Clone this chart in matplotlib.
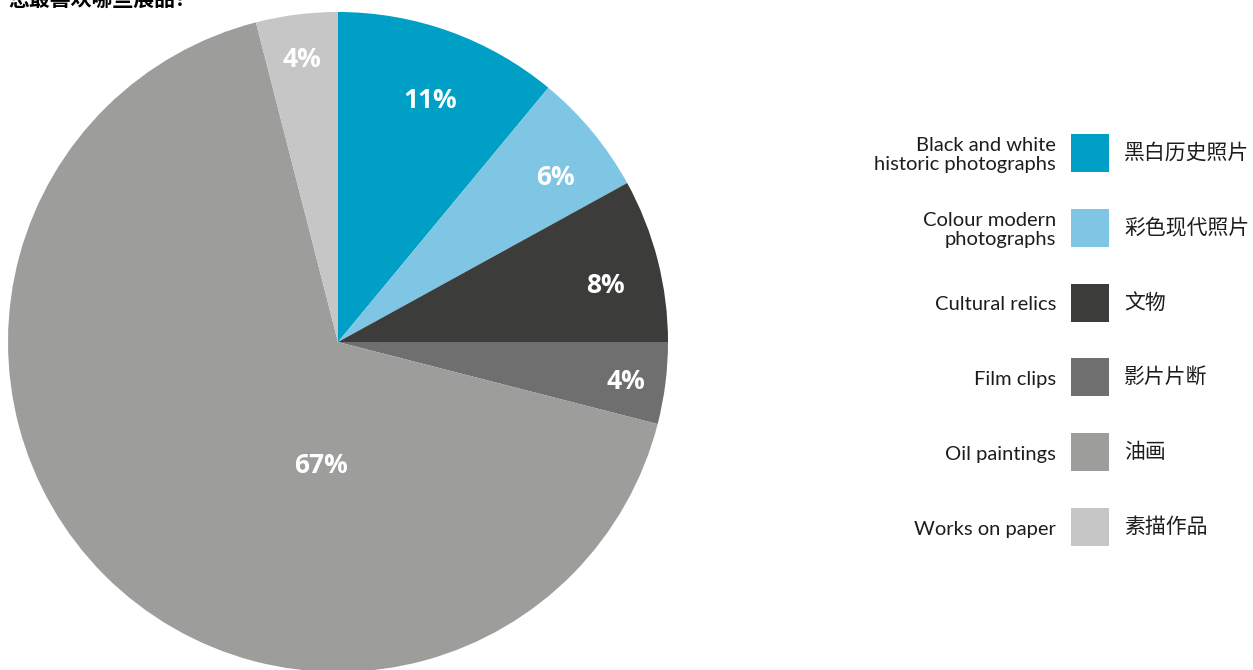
import numpy as np
import matplotlib
matplotlib.use('Agg')
import matplotlib.pyplot as plt
from matplotlib.patches import Rectangle

# survey: favourite exhibits
title = '您最喜欢哪些展品？'
labels_en = ['Black and white\nhistoric photographs', 'Colour modern\nphotographs',
             'Cultural relics', 'Film clips', 'Oil paintings', 'Works on paper']
labels_zh = ['黑白历史照片', '彩色现代照片', '文物', '影片片断', '油画', '素描作品']
shares = [11, 6, 8, 4, 67, 4]
colors = ['#00A0C6', '#7FC6E4', '#3C3C3B', '#706F6F', '#9D9D9C', '#C6C6C6']

# radial position of each percentage label (fraction of radius), angle offset in degrees
label_r = [0.79, 0.83, 0.83, 0.88, 0.37, 0.87]
label_dang = [-1, -2, -2, 0, 37, 0]

W, H = 1253, 670
fig = plt.figure(figsize=(W / 100, H / 100), dpi=100)

# pie axes, square in pixels
cx, cy, R = 338, 342, 330
ax = fig.add_axes([(cx - R) / W, (H - cy - R) / H, 2 * R / W, 2 * R / H])
wedges, _ = ax.pie(shares, colors=colors, startangle=90, counterclock=False,
                   radius=1, wedgeprops=dict(linewidth=0))
ax.set_xlim(-1, 1)
ax.set_ylim(-1, 1)
ax.set_aspect('auto')
ax.axis('off')
for w in wedges:
    w.set_clip_on(False)

for w, s, r, da in zip(wedges, shares, label_r, label_dang):
    ang = np.deg2rad((w.theta1 + w.theta2) / 2 + da)
    ax.text(r * np.cos(ang), r * np.sin(ang) - 0.008, f'{s}%', color='white',
            fontsize=19, fontweight='bold', family='Open Sans',
            ha='center', va='center')

# legend drawn in pixel space
lax = fig.add_axes([0, 0, 1, 1])
lax.set_xlim(0, W)
lax.set_ylim(H, 0)
lax.axis('off')
y0, dy = 153, 74.8
for i, (en, zh, c) in enumerate(zip(labels_en, labels_zh, colors)):
    yc = y0 + i * dy
    lax.add_patch(Rectangle((1071, yc - 19), 38, 38, color=c, lw=0))
    lax.text(1056, yc + 2, en, ha='right', va='center', fontsize=14.5,
             family='Lato', color='#1d1d1b', linespacing=1.12)
    lax.text(1124, yc, zh, ha='left', va='center', fontsize=15,
             family='Noto Sans CJK SC', color='#1d1d1b')

lax.text(8, 7, title, ha='left', va='baseline', fontsize=15, fontweight='bold',
         family=['Noto Sans CJK SC', 'DejaVu Sans'], color='black')

fig.savefig('out.png', dpi=100)
